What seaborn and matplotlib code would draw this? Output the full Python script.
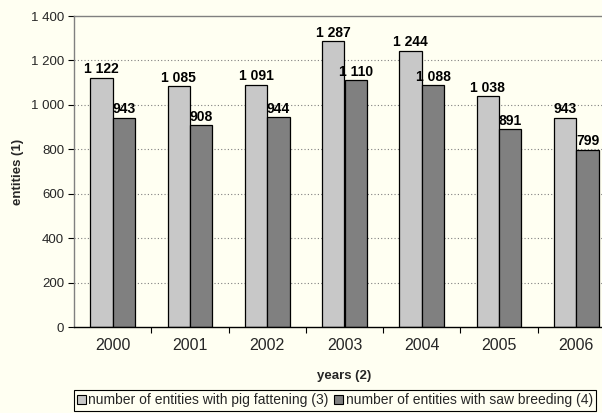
import pandas as pd
import matplotlib.pyplot as plt
import seaborn as sns

# === Data ===
years = ['2000', '2001', '2002', '2003', '2004', '2005', '2006']
pig_fattening = [1122, 1085, 1091, 1287, 1244, 1038, 943]
saw_breeding = [943, 908, 944, 1110, 1088, 891, 799]
series_names = ['number of entities with pig fattening (3)',
                'number of entities with saw breeding (4)']

BG = '#FFFFF2'
COLORS = ['#C8C8C8', '#808080']


def fmt_thousands(v):
    return f"{int(round(v)):,}".replace(',', ' ')


df = pd.DataFrame({
    'year': years * 2,
    'value': pig_fattening + saw_breeding,
    'series': [series_names[0]] * len(years) + [series_names[1]] * len(years),
})

sns.set_theme(style='white')
plt.rcParams['font.family'] = ['Liberation Sans', 'DejaVu Sans']

fig = plt.figure(figsize=(6.02, 4.13), dpi=100, facecolor=BG)
ax = fig.add_axes([74 / 602, 1 - 327 / 413, (615 - 74) / 602, (327 - 16) / 413])
ax.set_facecolor(BG)

sns.barplot(data=df, x='year', y='value', hue='series', palette=COLORS,
            width=0.58, edgecolor='black', linewidth=0.9, saturation=1,
            ax=ax, legend=False)

for cont in ax.containers:
    ax.bar_label(cont, labels=[fmt_thousands(v) for v in cont.datavalues],
                 padding=1, fontsize=10, fontweight='bold', color='black')

ax.set_ylim(0, 1400)
ax.set_xlim(-0.5, len(years) - 0.5)
ax.set_yticks(range(0, 1401, 200))
ax.set_yticklabels([fmt_thousands(v) for v in range(0, 1401, 200)], fontsize=9.5)
ax.tick_params(axis='y', which='major', length=4, width=0.8, color='black', pad=3, left=True)
ax.tick_params(axis='x', which='major', length=0, labelsize=11.5, pad=8)
ax.set_xticks([i + 0.5 for i in range(len(years) - 1)], minor=True)
ax.tick_params(axis='x', which='minor', length=4, width=0.8, color='black', bottom=True)

for y in range(200, 1400, 200):
    ax.axhline(y, color='#808080', linestyle=(0, (1, 2)), linewidth=0.8, zorder=0)

for side in ['left', 'top', 'right']:
    ax.spines[side].set_color('#808080')
    ax.spines[side].set_linewidth(1)
ax.spines['bottom'].set_color('black')
ax.spines['bottom'].set_linewidth(1)

ax.set_xlabel('years (2)', fontsize=9.5, fontweight='bold', labelpad=12)
ax.set_ylabel('entities (1)', fontsize=9.5, fontweight='bold', labelpad=5)

handles = [plt.Rectangle((0, 0), 1, 1, facecolor=c, edgecolor='black', linewidth=0.8)
           for c in COLORS]
leg = fig.legend(handles, series_names, loc='upper center', ncol=2,
                 bbox_to_anchor=(335 / 602, 1 - 390 / 413), fontsize=10,
                 frameon=True, fancybox=False, framealpha=1, facecolor=BG,
                 edgecolor='black', handlelength=0.6, handleheight=0.6,
                 handletextpad=0.2, columnspacing=0.4, borderpad=0.25,
                 borderaxespad=0)
leg.get_frame().set_linewidth(0.8)

fig.savefig('out.png', dpi=100, facecolor=BG)
